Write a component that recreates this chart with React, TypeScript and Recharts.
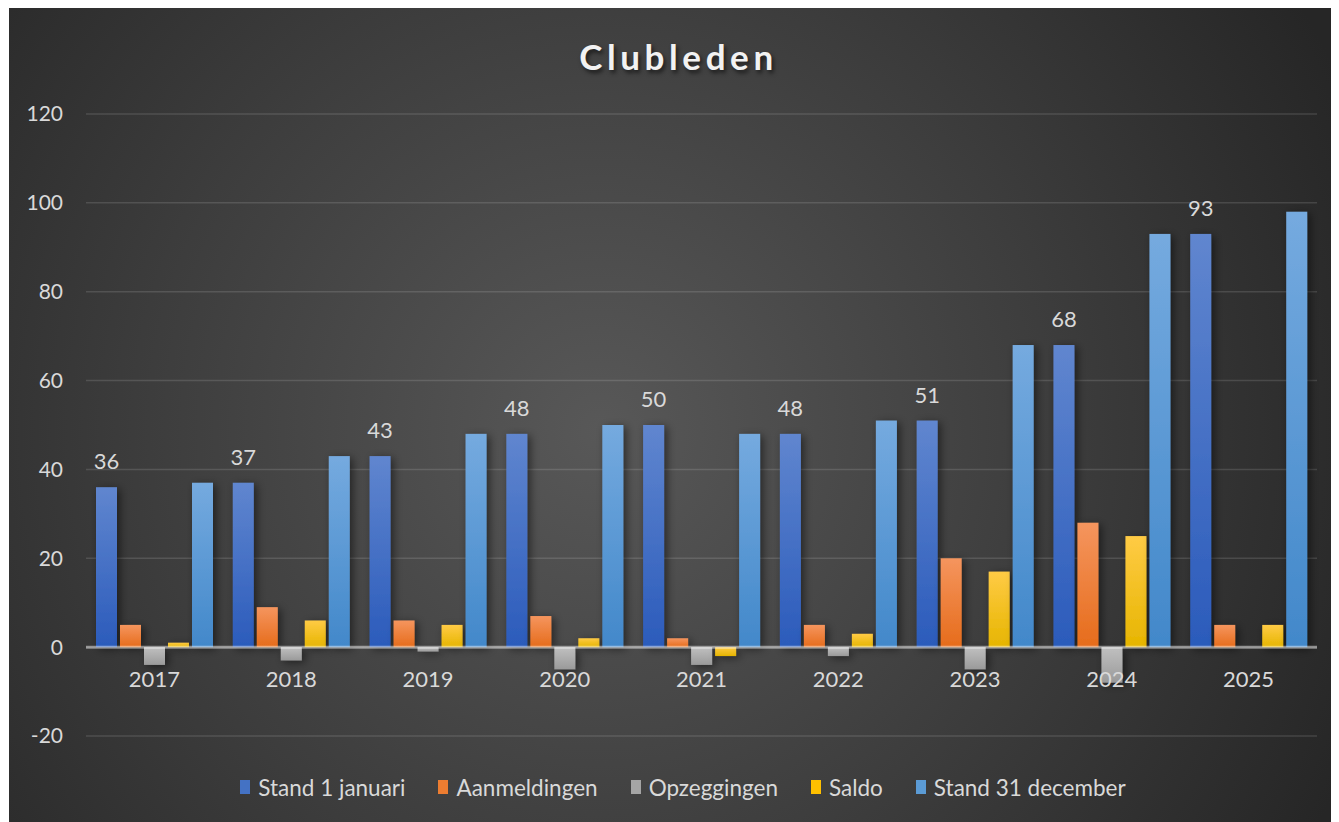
import React from 'react';
import { BarChart, Bar, XAxis, YAxis, CartesianGrid, ReferenceLine, Legend, LabelList } from 'recharts';

const years = ['2017', '2018', '2019', '2020', '2021', '2022', '2023', '2024', '2025'];
const stand1Jan = [36, 37, 43, 48, 50, 48, 51, 68, 93];
const aanmeldingen = [5, 9, 6, 7, 2, 5, 20, 28, 5];
const opzeggingen = [-4, -3, -1, -5, -4, -2, -5, -8, 0];
const saldo = [1, 6, 5, 2, -2, 3, 17, 25, 5];
const stand31Dec = [37, 43, 48, 50, 48, 51, 68, 93, 98];
const yTicks = [-20, 0, 20, 40, 60, 80, 100, 120];

const FONT = 'Lato, "Open Sans", sans-serif';

const series = [
  { key: 'stand1', name: 'Stand 1 januari', values: stand1Jan, top: '#6086cf', bottom: '#2b5bbb', legend: '#4472c4' },
  { key: 'aanm', name: 'Aanmeldingen', values: aanmeldingen, top: '#f5955e', bottom: '#e66c1b', legend: '#ed7d31' },
  { key: 'opz', name: 'Opzeggingen', values: opzeggingen, top: '#c0c0c0', bottom: '#9a9a9a', legend: '#a5a5a5' },
  { key: 'saldo', name: 'Saldo', values: saldo, top: '#ffcb45', bottom: '#e6b500', legend: '#ffc000' },
  { key: 'stand31', name: 'Stand 31 december', values: stand31Dec, top: '#75aadf', bottom: '#4288ca', legend: '#5b9bd5' },
];

const data = years.map((year, i) => {
  const row: any = { year };
  series.forEach((s) => {
    row[s.key] = s.values[i];
  });
  return row;
});

const BarShape = (props: any) => {
  let { x, y, width, height } = props;
  const { fill } = props;
  if (height < 0) {
    y += height;
    height = -height;
  }
  if (!height) return null;
  return <rect x={x} y={y} width={width} height={height} fill={fill} filter="url(#barShadow)" />;
};

const XTick = (props: any) => (
  <text
    x={props.x}
    y={props.y - 58}
    textAnchor="middle"
    dominantBaseline="central"
    fill="#d9d9d9"
    fontSize={22}
    fontFamily={FONT}
  >
    {props.payload.value}
  </text>
);

const renderLegend = () => (
  <div
    style={{
      display: 'flex',
      justifyContent: 'center',
      alignItems: 'center',
      height: 30,
      fontFamily: FONT,
      fontSize: 22.5,
      color: '#d9d9d9',
      paddingLeft: 18,
    }}
  >
    {series.map((s, i) => (
      <div key={s.key} style={{ display: 'flex', alignItems: 'center', marginRight: i < series.length - 1 ? 33 : 0 }}>
        <span style={{ display: 'inline-block', width: 10, height: 14, background: s.legend, marginRight: 8 }} />
        <span>{s.name}</span>
      </div>
    ))}
  </div>
);

export default function App() {
  const W = 1330;
  const H = 814;
  return (
    <div
      style={{
        position: 'relative',
        width: W,
        height: H,
        marginLeft: 1,
        background: 'radial-gradient(circle 820px at 591px 422px, #585858 0%, #3d3d3d 55%, #262626 100%)',
      }}
    >
      <div
        style={{
          position: 'absolute',
          left: 0,
          top: 27,
          width: W,
          paddingLeft: 9,
          boxSizing: 'border-box',
          textAlign: 'center',
          fontFamily: FONT,
          fontWeight: 700,
          fontSize: 35,
          lineHeight: '42px',
          letterSpacing: 4.6,
          color: '#f2f2f2',
          textShadow: '2px 3px 4px rgba(0,0,0,0.6)',
          zIndex: 2,
        }}
      >
        Clubleden
      </div>
      <BarChart
        width={W}
        height={H}
        data={data}
        margin={{ top: 106, right: 22, left: 0, bottom: 26 }}
        barSize={21}
        barGap={3}
      >
        <defs>
          {series.map((s) => (
            <linearGradient key={s.key} id={`grad-${s.key}`} x1="0" y1="0" x2="0" y2="1">
              <stop offset="0%" stopColor={s.top} />
              <stop offset="100%" stopColor={s.bottom} />
            </linearGradient>
          ))}
          <filter id="barShadow" filterUnits="userSpaceOnUse" x="0" y="0" width={W} height={H}>
            <feDropShadow dx="3" dy="2" stdDeviation="4" floodColor="#000000" floodOpacity="0.5" />
          </filter>
        </defs>
        <CartesianGrid vertical={false} stroke="#ffffff" strokeOpacity={0.13} strokeWidth={1.5} />
        <XAxis
          dataKey="year"
          height={30}
          axisLine={false}
          tickLine={false}
          tickSize={0}
          tickMargin={0}
          interval={0}
          tick={<XTick />}
        />
        <YAxis
          domain={[-20, 120]}
          ticks={yTicks}
          interval={0}
          width={77}
          axisLine={false}
          tickLine={false}
          tickSize={0}
          tickMargin={23}
          tick={{ fill: '#d9d9d9', fontSize: 21, fontFamily: FONT }}
        />
        <Legend verticalAlign="bottom" content={renderLegend} wrapperStyle={{ top: 764, left: 0, width: W }} />
        {series.map((s) => (
          <Bar
            key={s.key}
            dataKey={s.key}
            name={s.name}
            fill={`url(#grad-${s.key})`}
            shape={<BarShape />}
            isAnimationActive={false}
          >
            {s.key === 'stand1' && (
              <LabelList
                dataKey={s.key}
                position="top"
                offset={18}
                fill="#d9d9d9"
                fontSize={22}
                fontFamily={FONT}
              />
            )}
          </Bar>
        ))}
        <ReferenceLine y={0} stroke="#ffffff" strokeOpacity={0.45} strokeWidth={3} />
      </BarChart>
    </div>
  );
}
